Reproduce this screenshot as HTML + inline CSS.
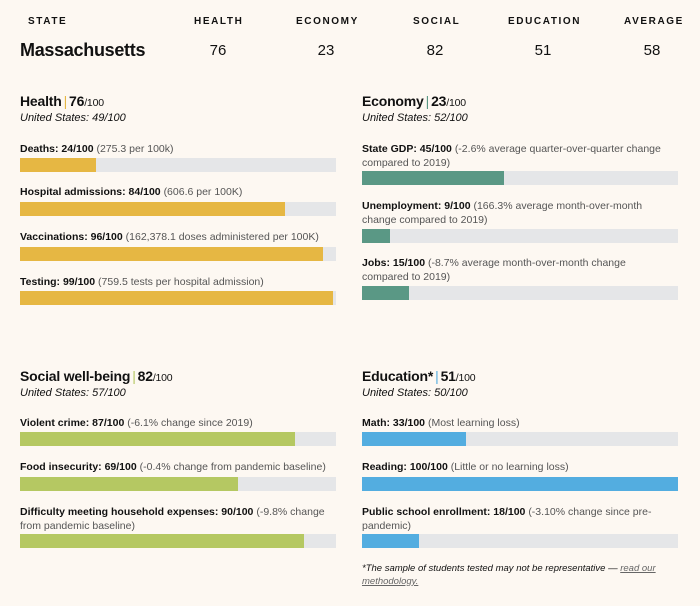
<!DOCTYPE html>
<html><head><meta charset="utf-8"><style>
body{margin:0;width:700px;height:606px;background:#fdf8f2;font-family:"Liberation Sans",sans-serif;color:#111;position:relative;overflow:hidden}
.a{position:absolute;white-space:nowrap}
.h{font-size:10px;font-weight:bold;letter-spacing:1.6px;top:16px}
.s{font-size:15px;top:42px;width:60px;text-align:center}
.t{font-size:14px;font-weight:bold;line-height:18px;letter-spacing:-0.2px}
.t small{font-size:10.5px;font-weight:normal}
.t i{font-style:normal;color:#e6b743;font-weight:normal;margin:0 2px}
.u{font-size:11px;font-style:italic;line-height:14px}
.l{font-size:10.5px;line-height:14px;white-space:normal;width:310px}
.l b{font-weight:bold}
.l span{color:#555}
.tr{position:absolute;height:14px;background:#e5e6e8;width:316px}
.tr div{height:100%}
</style></head><body>
<div class="a h" style="left:28px">STATE</div>
<div class="a h" style="left:194px">HEALTH</div>
<div class="a h" style="left:296px">ECONOMY</div>
<div class="a h" style="left:413px">SOCIAL</div>
<div class="a h" style="left:508px">EDUCATION</div>
<div class="a h" style="left:624px">AVERAGE</div>
<div class="a" style="left:20px;top:40px;font-size:18px;font-weight:bold;letter-spacing:-0.3px">Massachusetts</div>
<div class="a s" style="left:188px">76</div>
<div class="a s" style="left:296px">23</div>
<div class="a s" style="left:405px">82</div>
<div class="a s" style="left:513px">51</div>
<div class="a s" style="left:622px">58</div>

<div class="a t" style="left:20px;top:92px">Health<i>|</i>76<small>/100</small></div>
<div class="a u" style="left:20px;top:111px">United States: 49/100</div>
<div class="a l" style="left:20px;top:142px"><b>Deaths: 24/100</b> <span>(275.3 per 100k)</span></div>
<div class="tr" style="left:20px;top:158px"><div style="width:24%;background:#e6b743"></div></div>
<div class="a l" style="left:20px;top:185px"><b>Hospital admissions: 84/100</b> <span>(606.6 per 100K)</span></div>
<div class="tr" style="left:20px;top:202px"><div style="width:84%;background:#e6b743"></div></div>
<div class="a l" style="left:20px;top:230px;width:330px"><b>Vaccinations: 96/100</b> <span>(162,378.1 doses administered per 100K)</span></div>
<div class="tr" style="left:20px;top:247px"><div style="width:96%;background:#e6b743"></div></div>
<div class="a l" style="left:20px;top:275px"><b>Testing: 99/100</b> <span>(759.5 tests per hospital admission)</span></div>
<div class="tr" style="left:20px;top:291px"><div style="width:99%;background:#e6b743"></div></div>

<div class="a t" style="left:362px;top:92px">Economy<i style="color:#5a9885">|</i>23<small>/100</small></div>
<div class="a u" style="left:362px;top:111px">United States: 52/100</div>
<div class="a l" style="left:362px;top:142px"><b>State GDP: 45/100</b> <span>(-2.6% average quarter-over-quarter change compared to 2019)</span></div>
<div class="tr" style="left:362px;top:171px"><div style="width:45%;background:#5a9885"></div></div>
<div class="a l" style="left:362px;top:199px"><b>Unemployment: 9/100</b> <span>(166.3% average month-over-month change compared to 2019)</span></div>
<div class="tr" style="left:362px;top:229px"><div style="width:9%;background:#5a9885"></div></div>
<div class="a l" style="left:362px;top:256px"><b>Jobs: 15/100</b> <span>(-8.7% average month-over-month change compared to 2019)</span></div>
<div class="tr" style="left:362px;top:286px"><div style="width:15%;background:#5a9885"></div></div>

<div class="a t" style="left:20px;top:367px">Social well-being<i style="color:#b5c862">|</i>82<small>/100</small></div>
<div class="a u" style="left:20px;top:386px">United States: 57/100</div>
<div class="a l" style="left:20px;top:416px"><b>Violent crime: 87/100</b> <span>(-6.1% change since 2019)</span></div>
<div class="tr" style="left:20px;top:432px"><div style="width:87%;background:#b5c862"></div></div>
<div class="a l" style="left:20px;top:460px;width:330px"><b>Food insecurity: 69/100</b> <span>(-0.4% change from pandemic baseline)</span></div>
<div class="tr" style="left:20px;top:477px"><div style="width:69%;background:#b5c862"></div></div>
<div class="a l" style="left:20px;top:505px"><b>Difficulty meeting household expenses: 90/100</b> <span>(-9.8% change from pandemic baseline)</span></div>
<div class="tr" style="left:20px;top:534px"><div style="width:90%;background:#b5c862"></div></div>

<div class="a t" style="left:362px;top:367px">Education*<i style="color:#53ade0">|</i>51<small>/100</small></div>
<div class="a u" style="left:362px;top:386px">United States: 50/100</div>
<div class="a l" style="left:362px;top:416px"><b>Math: 33/100</b> <span>(Most learning loss)</span></div>
<div class="tr" style="left:362px;top:432px"><div style="width:33%;background:#53ade0"></div></div>
<div class="a l" style="left:362px;top:460px"><b>Reading: 100/100</b> <span>(Little or no learning loss)</span></div>
<div class="tr" style="left:362px;top:477px"><div style="width:100%;background:#53ade0"></div></div>
<div class="a l" style="left:362px;top:505px"><b>Public school enrollment: 18/100</b> <span>(-3.10% change since pre-pandemic)</span></div>
<div class="tr" style="left:362px;top:534px"><div style="width:18%;background:#53ade0"></div></div>
<div class="a" style="left:362px;top:562px;font-size:9.5px;font-style:italic;line-height:13px;white-space:normal;width:300px">*The sample of students tested may not be representative — <span style="text-decoration:underline;color:#666">read our methodology.</span></div>
</body></html>
